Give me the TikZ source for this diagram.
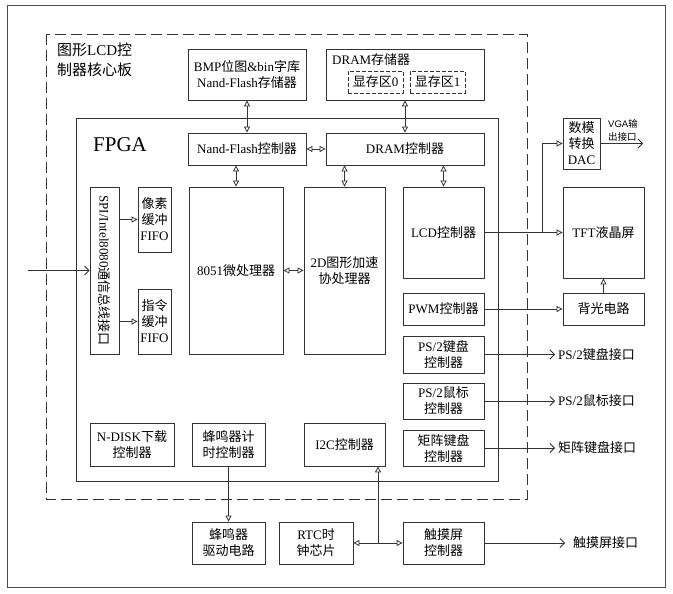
\documentclass[tikz,border=0pt]{standalone}
\usepackage{fontspec}
\setmainfont{Liberation Serif}
\newfontfamily\cjk{Noto Sans CJK SC}
\newfontfamily\sansf{Liberation Sans}
\usetikzlibrary{arrows.meta}
\newcommand\zh[1]{{\cjk #1}}
\newcommand\mybox[7][]{%
  \pgfmathsetmacro\mywd{#5-#3}\pgfmathsetmacro\myht{#6-#4}%
  \node[box,minimum width=\mywd pt,minimum height=\myht pt,#1] (#2) at ({(#3+#5)/2},{(#4+#6)/2}) {#7};}
\tikzset{
  box/.style={draw=black!80, line width=0.8pt, align=center, inner sep=0pt,
    font=\fontsize{13}{16}\selectfont},
  ln/.style={draw=black!80, line width=0.8pt},
  tri/.style={ln, -{Triangle[open,length=6pt,width=6pt]}},
  dtri/.style={ln, {Triangle[open,length=6pt,width=6pt]}-{Triangle[open,length=6pt,width=6pt]}},
  barb/.style={ln, -{Straight Barb[length=4.5pt,width=9pt]}},
  lbl/.style={anchor=west, inner xsep=3pt, inner ysep=0pt, font=\fontsize{13}{16}\selectfont},
  longdash/.style={dash pattern=on 11pt off 5pt},
  shortdash/.style={dash pattern=on 4pt off 2pt}
}
\begin{document}
\begin{tikzpicture}[x=1pt,y=-1pt]
\useasboundingbox (0,0) rectangle (673,594);
% outer frame
\draw[draw=black!70, line width=0.8pt] (7,5) rectangle (665,587);
% dashed core board
\draw[ln, longdash] (46,34) rectangle (527,499);
\node[anchor=north west, align=left, inner sep=0pt, font=\fontsize{15}{20}\selectfont] (title) at (57,43) {\zh{图形}LCD\zh{控}\\\zh{制器核心板}};
% FPGA
\draw[ln] (76,118) rectangle (498,481);
\node[anchor=west, inner sep=0pt, font=\fontsize{21}{24}\selectfont] (fpga) at (93,145) {FPGA};

% storage
\mybox{bmp}{188}{49}{306}{100}{BMP\zh{位图}\&bin\zh{字库}\\Nand-Flash\zh{存储器}}
\mybox{drams}{326}{49}{484}{100}{}
\node[anchor=west, inner sep=0pt, font=\fontsize{13}{16}\selectfont] (dramst) at (332,60) {DRAM\zh{存储器}};
\mybox[shortdash]{vr0}{348}{71}{403}{93}{\zh{显存区}0}
\mybox[shortdash]{vr1}{410}{71}{465}{93}{\zh{显存区}1}

% controllers
\mybox{nf}{188}{133}{306}{165}{Nand-Flash\zh{控制器}}
\mybox{dramc}{326}{133}{484}{165}{DRAM\zh{控制器}}
\mybox{spi}{90}{187}{119}{354}{\rotatebox[origin=c]{-90}{SPI/Intel8080\zh{通信总线接口}}}
\mybox{pix}{138}{187}{171}{252}{\zh{像素}\\\zh{缓冲}\\FIFO}
\mybox{cmd}{138}{289}{171}{354}{\zh{指令}\\\zh{缓冲}\\FIFO}
\mybox{mcu}{189}{187}{283}{354}{8051\zh{微处理器}}
\mybox{gpu}{304}{187}{385}{354}{2D\zh{图形加速}\\\zh{协处理器}}
\mybox{lcd}{403}{187}{484}{278}{LCD\zh{控制器}}
\mybox{pwm}{403}{293}{484}{325}{PWM\zh{控制器}}
\mybox{ps2k}{403}{336}{484}{373}{PS/2\zh{键盘}\\\zh{控制器}}
\mybox{ps2m}{403}{383}{484}{419}{PS/2\zh{鼠标}\\\zh{控制器}}
\mybox{mat}{403}{430}{484}{466}{\zh{矩阵键盘}\\\zh{控制器}}
\mybox{ndisk}{90}{423}{174}{466}{N-DISK\zh{下载}\\\zh{控制器}}
\mybox{bz}{192}{423}{265}{466}{\zh{蜂鸣器计}\\\zh{时控制器}}
\mybox{i2c}{304}{423}{385}{466}{I2C\zh{控制器}}

% external
\mybox{bzd}{192}{522}{265}{564}{\zh{蜂鸣器}\\\zh{驱动电路}}
\mybox{rtc}{279}{522}{353}{564}{RTC\zh{时}\\\zh{钟芯片}}
\mybox{touch}{403}{522}{484}{564}{\zh{触摸屏}\\\zh{控制器}}
\mybox{dac}{563}{118}{600}{169}{\zh{数模}\\\zh{转换}\\DAC}
\mybox{tft}{563}{187}{644}{278}{TFT\zh{液晶屏}}
\mybox{bl}{563}{293}{644}{325}{\zh{背光电路}}

% interface labels
\node[lbl] (ps2kt) at (555,354.5) {PS/2\zh{键盘接口}};
\node[lbl] (ps2mt) at (555,401) {PS/2\zh{鼠标接口}};
\node[lbl] (matt) at (555,448) {\zh{矩阵键盘接口}};
\node[lbl, inner xsep=8pt] (toucht) at (565,543) {\zh{触摸屏接口}};
\coordinate (vga) at (643,143.5);
\node[align=left, inner sep=0pt, font=\fontsize{9.5}{13}\selectfont\sansf] (vgat) at (623,130) {VGA\zh{输}\\\zh{出接口}};
\coordinate (in) at (28,270.5);
\coordinate (br) at (542,232.5);
\coordinate (j) at (378,543);

% connectors
\draw[dtri] (bmp.south) -- (nf.north);
\draw[dtri] (drams.south) -- (dramc.north);
\draw[dtri] (nf.east) -- (dramc.west);
\draw[dtri] (nf.south -| mcu.north) -- (mcu.north);
\draw[dtri] (dramc.south -| gpu.north) -- (gpu.north);
\draw[dtri] (dramc.south -| lcd.north) -- (lcd.north);
\draw[dtri] (mcu.east) -- (gpu.west);
\draw[barb] (in) -- (spi.west);
\draw[tri] (pix.west -| spi.east) -- (pix.west);
\draw[tri] (cmd.west -| spi.east) -- (cmd.west);
\draw[tri] (lcd.east) -- (tft.west);
\draw[tri] (br) |- (dac.west);
\draw[barb] (dac.east) -- (vga);
\draw[tri] (pwm.east) -- (bl.west);
\draw[tri] (bl.north) -- (tft.south);
\draw[barb] (ps2k.east) -- (ps2kt.west);
\draw[barb] (ps2m.east) -- (ps2mt.west);
\draw[barb] (mat.east) -- (matt.west);
\draw[barb] (touch.east) -- (toucht.west);
\draw[tri] (bz.south) -- (bzd.north);
\draw[dtri] (rtc.east) -- (touch.west);
\draw[tri] (j) -- (j |- i2c.south);
\end{tikzpicture}
\end{document}
